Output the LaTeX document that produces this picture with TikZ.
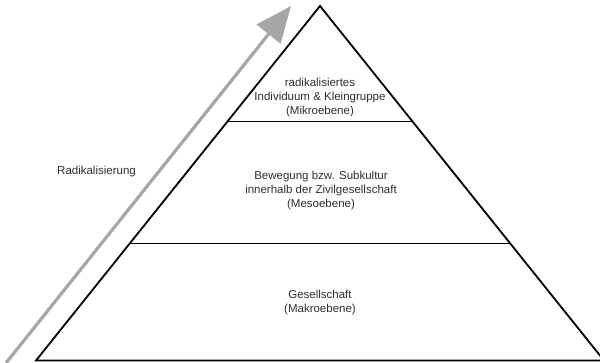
\documentclass[tikz,border=0pt]{standalone}
\usepackage{fontspec}
\setmainfont{Liberation Sans}
\usetikzlibrary{arrows.meta}
\definecolor{txt}{HTML}{2E2E2E}
\definecolor{arr}{HTML}{A6A6A6}
\begin{document}
\begin{tikzpicture}[x=1pt,y=-1pt,
  lvl/.style={align=center,font=\fontsize{11.5}{14}\selectfont,text=txt,inner sep=0pt},
  edge/.style={draw=black,line width=1.8pt,line join=miter}]
\useasboundingbox (0,0) rectangle (600,363);
\begin{scope}
\clip (0,0) rectangle (600,363);
\coordinate (apex) at (320,6);
\coordinate (bl) at (36,360.5);
\coordinate (br) at (604,360.5);
\coordinate (t1l) at (227.5,121.5);
\coordinate (t1r) at (412.5,121.5);
\coordinate (t2l) at (130.5,243.5);
\coordinate (t2r) at (509.5,243.5);
\draw[edge] (apex) -- (bl) -- (br) -- cycle;
\draw[edge] (t1l) -- (t1r);
\draw[edge] (t2l) -- (t2r);
\coordinate (as) at (6,363);
\coordinate (ae) at (291,6);
\draw[arr,line width=3.2pt,-{Triangle[length=36pt,width=30pt]}] (as) -- (ae);
\end{scope}
\node[lvl] (mikro) at (320,98) {radikalisiertes\\Individuum \& Kleingruppe\\(Mikroebene)};
\node[lvl] (meso) at (321,191) {Bewegung bzw. Subkultur\\innerhalb der Zivilgesellschaft\\(Mesoebene)};
\node[lvl] (makro) at (320,303) {Gesellschaft\\(Makroebene)};
\node[lvl,anchor=west] (radi) at (57,172) {Radikalisierung};
\end{tikzpicture}
\end{document}
